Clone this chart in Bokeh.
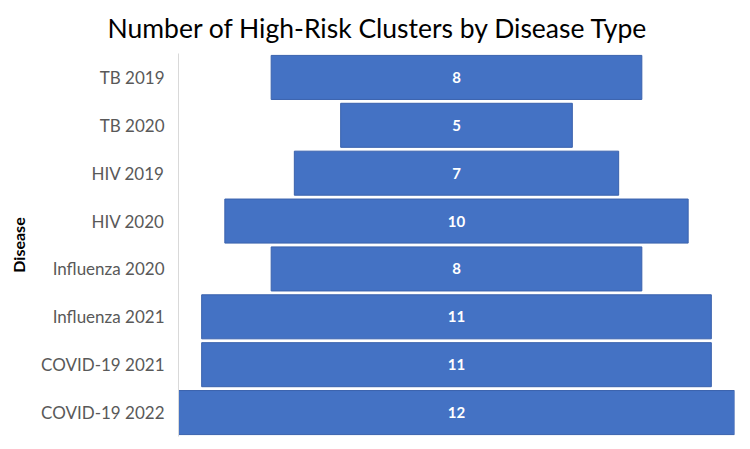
from bokeh.plotting import figure
from bokeh.models import ColumnDataSource, FactorRange, Range1d
from bokeh.core.properties import value
from bokeh.embed import file_html
from bokeh.resources import INLINE

categories = ["TB 2019", "TB 2020", "HIV 2019", "HIV 2020",
              "Influenza 2020", "Influenza 2021", "COVID-19 2021", "COVID-19 2022"]
clusters = [8, 5, 7, 10, 8, 11, 11, 12]

src = ColumnDataSource(dict(
    cat=categories,
    val=clusters,
    left=[-v / 2 for v in clusters],
    right=[v / 2 for v in clusters],
    lbl=[str(v) for v in clusters],
    mid=[0] * len(clusters),
))

p = figure(width=742, height=441, output_backend="svg", toolbar_location=None,
           y_range=FactorRange(factors=list(reversed(categories)), range_padding=0),
           x_range=Range1d(-6.0, 6.0),
           min_border_left=178, min_border_right=8, min_border_bottom=5, min_border_top=23)

p.hbar(y="cat", left="left", right="right", height=0.92, source=src,
       fill_color="#4472C4", line_color="#3A62AD", line_width=1)
p.text(x="mid", y="cat", text="lbl", source=src, text_color="white",
       text_font=value("Lato"), text_font_size="15px", text_font_style="bold",
       text_align="center", text_baseline="middle")

p.title.text = "Number of High-Risk Clusters by Disease Type"
p.title.align = "left"
p.title.offset = -71
p.title.text_font = "Lato"
p.title.text_font_size = "26.5px"
p.title.text_font_style = "normal"
p.title.text_color = "#000000"
p.title.standoff = 19

p.xaxis.visible = False
p.xgrid.visible = False
p.ygrid.visible = False
p.outline_line_color = None

ax = p.yaxis[0]
ax.axis_label = "Disease"
ax.axis_label_text_font = "Lato"
ax.axis_label_text_font_size = "16px"
ax.axis_label_text_font_style = "bold"
ax.axis_label_text_color = "#000000"
ax.axis_label_standoff = 10
ax.major_label_text_font = "Lato"
ax.major_label_text_font_size = "17px"
ax.major_label_text_color = "#595959"
ax.major_label_standoff = 8
ax.major_tick_line_color = None
ax.minor_tick_line_color = None
ax.axis_line_color = "#D9D9D9"

open("out.html", "w").write(file_html(p, INLINE))
